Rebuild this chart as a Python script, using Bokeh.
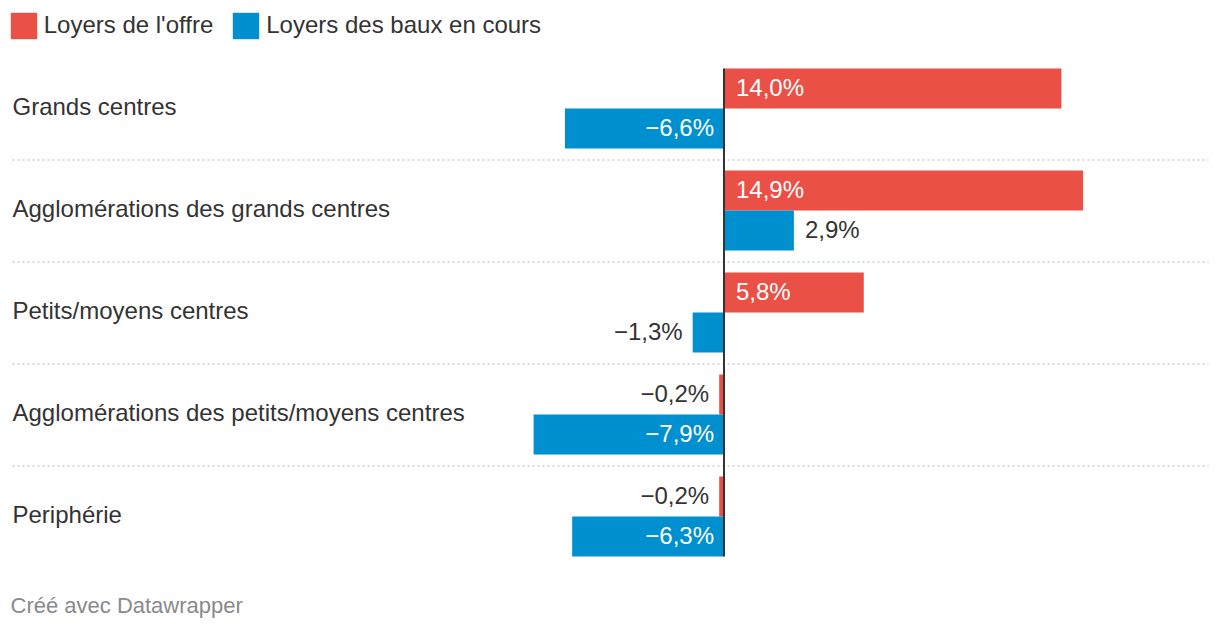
from bokeh.plotting import figure
from bokeh.models import Range1d, ColumnDataSource, Legend, LegendItem
from bokeh.core.properties import value
from bokeh.embed import file_html
from bokeh.resources import INLINE

# ---- data ----
categories = [
    "Grands centres",
    "Agglomérations des grands centres",
    "Petits/moyens centres",
    "Agglomérations des petits/moyens centres",
    "Periphérie",
]
loyers_offre = [14.0, 14.9, 5.8, -0.2, -0.2]
loyers_baux = [-6.6, 2.9, -1.3, -7.9, -6.3]
series_names = ["Loyers de l'offre", "Loyers des baux en cours"]
footer = "Créé avec Datawrapper"

# ---- styling / layout ----
RED = "#ea5045"
BLUE = "#0090d0"
TXT = "#333333"
FONT = "Liberation Sans"
W, H = 1216, 626
ZERO_PX = 723.5          # canvas x of the zero line
PX_PER_UNIT = 24.1       # pixels per percentage point
GROUP_PX = 102           # vertical pitch of groups
FIRST_CENTER_PX = 108    # canvas y of first group centre
BAR_PX = 40

def px_to_x(px):
    return (px - ZERO_PX) / PX_PER_UNIT

def px_to_y(py):
    return (py - FIRST_CENTER_PX) / GROUP_PX

bar_h = BAR_PX / GROUP_PX
n = len(categories)
idx = list(range(n))

p = figure(width=W, height=H, output_backend="svg", toolbar_location=None,
           x_range=Range1d(px_to_x(0), px_to_x(W)),
           y_range=Range1d(px_to_y(H), px_to_y(0)),
           x_axis_type=None, y_axis_type=None, min_border=0,
           min_border_left=0, min_border_right=0, min_border_top=0, min_border_bottom=0)
p.outline_line_color = None
p.xgrid.visible = False
p.ygrid.visible = False
p.background_fill_color = "white"
p.border_fill_color = "white"

# separators
sep_y = [i + 0.5 + 0.5 / GROUP_PX for i in idx[:-1]]
p.segment(x0=[px_to_x(12)] * len(sep_y), x1=[px_to_x(1208)] * len(sep_y), y0=sep_y, y1=sep_y,
          line_color="#cccccc", line_width=1.6, line_dash="2 3")

# bars
src_o = ColumnDataSource(dict(y=[i - bar_h / 2 for i in idx], v=loyers_offre))
src_b = ColumnDataSource(dict(y=[i + bar_h / 2 for i in idx], v=loyers_baux))
r_o = p.hbar(y="y", left=0, right="v", height=bar_h, source=src_o, fill_color=RED, line_color=None)
r_b = p.hbar(y="y", left=0, right="v", height=bar_h, source=src_b, fill_color=BLUE, line_color=None)

# zero line
p.segment(x0=[0], x1=[0], y0=[-bar_h], y1=[n - 1 + bar_h], line_color=TXT, line_width=2)

# value labels
def fmt(v):
    s = f"{abs(v):.1f}".replace(".", ",") + "%"
    return ("\u2212" + s) if v < 0 else s

left = dict(x=[], y=[], t=[], off=[], c=[])
right = dict(x=[], y=[], t=[], off=[], c=[])
for vals, ys in ((loyers_offre, src_o.data["y"]), (loyers_baux, src_b.data["y"])):
    for v, y in zip(vals, ys):
        inside = abs(v) * PX_PER_UNIT > 80
        if v >= 0:
            d = left
            d["x"].append(0 if inside else v)
            d["off"].append(12 if inside else 11)
        else:
            d = right
            d["x"].append(0 if inside else v)
            d["off"].append(-10 if inside else -10)
        d["y"].append(y)
        d["t"].append(fmt(v))
        d["c"].append("white" if inside else TXT)

for d, al in ((left, "left"), (right, "right")):
    p.text(x="x", y="y", text="t", x_offset="off", y_offset=-1.5, text_color="c",
           source=ColumnDataSource(d),
           text_align=al, text_baseline="middle", text_font=value(FONT), text_font_size="24px")

# category labels
p.text(x=[px_to_x(12)] * n, y=[i - 0.02 for i in idx], text=categories, text_color=TXT,
       text_align="left", text_baseline="middle", text_font=value(FONT), text_font_size="24px")

# footer
p.text(x=[px_to_x(10)], y=[px_to_y(605)], text=[footer], text_color="#8a8a8a",
       text_align="left", text_baseline="middle", text_font=value(FONT), text_font_size="22px")

# legend
legend = Legend(items=[LegendItem(label=series_names[0], renderers=[r_o]),
                       LegendItem(label=series_names[1], renderers=[r_b])],
                orientation="horizontal", location=(6.7, H - 33 - 8.7),
                margin=0, padding=0, spacing=16, label_standoff=4,
                glyph_width=33, glyph_height=33,
                label_text_font=FONT, label_text_font_size="24px", label_text_color=TXT,
                background_fill_alpha=0, border_line_alpha=0)
p.add_layout(legend)

open("out.html", "w").write(file_html(p, INLINE))
